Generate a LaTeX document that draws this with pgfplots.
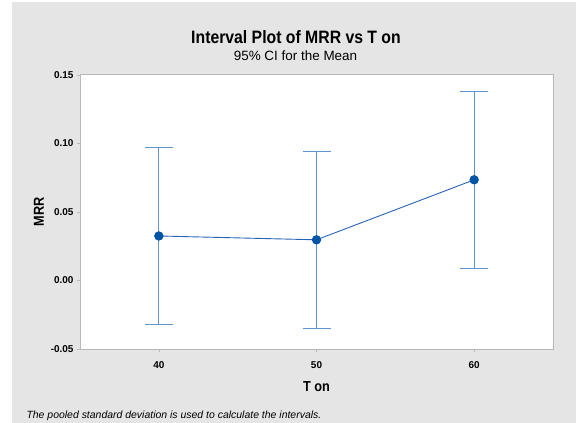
\documentclass[border=0pt]{standalone}
\usepackage{fontspec}
\setmainfont{Liberation Sans}
\newfontfamily\condfont{Liberation Sans}[FakeStretch=0.88]
\usepackage{pgfplots}
\pgfplotsset{compat=1.18}
\definecolor{bggray}{RGB}{229,229,229}
\definecolor{framegray}{RGB}{185,185,185}
\definecolor{barblue}{RGB}{98,148,204}
\definecolor{ptblue}{RGB}{0,84,166}
\definecolor{lineblue}{RGB}{40,100,180}
\begin{document}
\begin{tikzpicture}
\path[use as bounding box] (0bp,0bp) rectangle (576bp,423bp);
\fill[white] (0bp,0bp) rectangle (576bp,423bp);
\fill[bggray] (12bp,0bp) rectangle (576bp,420.5bp);
\node[font=\condfont\fontsize{18}{21}\selectfont\bfseries] at (296bp,386bp) {Interval Plot of MRR vs T on};
\node[font=\fontsize{13.5}{16}\selectfont] at (295.5bp,367bp) {95\% CI for the Mean};
\node[font=\fontsize{10.5}{12}\selectfont\itshape, anchor=west] at (23bp,7.5bp) {The pooled standard deviation is used to calculate the intervals.};
\begin{axis}[
  at={(80bp,74bp)}, anchor=south west,
  scale only axis, width=473bp, height=274bp,
  xmin=35, xmax=65, ymin=-0.05, ymax=0.15,
  xtick={40,50,60},
  ytick={-0.05,0,0.05,0.1,0.15},
  yticklabel style={/pgf/number format/.cd, fixed, fixed zerofill, precision=2},
  xticklabel style={yshift=-6bp},
  /pgf/number format/assume math mode=true,
  ticklabel style={font=\fontsize{10}{12}\selectfont\bfseries},
  tick align=outside, tick pos=left,
  major tick length=3bp,
  tick style={framegray, line width=0.5pt},
  axis line style={framegray, line width=1pt},
  axis background/.style={fill=white},
  xlabel={T on}, ylabel={MRR},
  label style={font=\condfont\fontsize{14.5}{17}\selectfont\bfseries},
  xlabel style={at={(axis description cs:0.5,-0.1376)}, anchor=center},
  ylabel style={at={(axis description cs:-0.0867,0.5)}, anchor=center},
  clip=false,
]
\addplot[draw=none, mark=none, error bars/.cd, y dir=both, y explicit,
  error bar style={barblue, line width=1.1pt},
  error mark options={barblue, line width=1.1pt, mark size=14bp, rotate=90}]
  coordinates {(40,0.0325) +- (0,0.0647) (50,0.0297) +- (0,0.0647) (60,0.0735) +- (0,0.0647)};
\addplot[lineblue, line width=0.9pt, mark=*, mark size=4.2bp, mark options={ptblue, fill=ptblue}]
  coordinates {(40,0.0325) (50,0.0297) (60,0.0735)};
\end{axis}
\end{tikzpicture}
\end{document}
